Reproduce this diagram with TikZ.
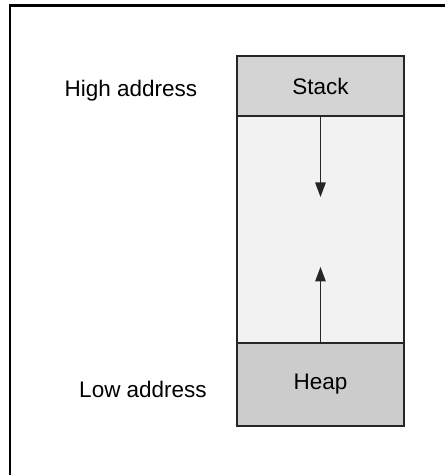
\documentclass[tikz,border=0pt]{standalone}
\usepackage{fontspec}
\setmainfont{Liberation Sans}
\usepackage{tikz}
\usetikzlibrary{positioning,arrows.meta,calc}

\begin{document}
\begin{tikzpicture}[
    x=0.02cm, y=-0.02cm,
    font=\fontsize{12.8}{15}\selectfont,
    seg/.style={draw, black!85, text=black, line width=1.1pt, minimum width=3.34cm,
                inner sep=0pt, outer sep=0pt, align=center},
    op/.style={->, >={Triangle[length=2.9mm, width=2.1mm]}, line width=0.7pt,
               black!85},
    frame/.style={line width=1.7pt},
  ]
  \useasboundingbox (0,0) rectangle (445,475);
  % --- outer frame (top and left only) ---
  \draw[frame] (10,475) -- (10,6) -- (445,6);

  % --- memory segments ---
  \node[seg, fill=black!17, minimum height=1.2cm, anchor=north west]
    (stack) at (237,56) {Stack};
  \node[seg, fill=black!5, minimum height=4.54cm, below=0pt of stack] (free) {};
  \node[seg, fill=black!20, minimum height=1.66cm, below=0pt of free] (heap) {Heap};

  % --- growth arrows ---
  \coordinate (downend) at ($(stack.south)+(0,81)$);
  \coordinate (upend) at ($(heap.north)+(0,-76)$);
  \draw[op] (stack.south) -- (downend);
  \draw[op] (heap.north) -- (upend);

  % --- address labels ---
  \node (high) at (131,91) {High address};
  \node (low) at (143,389) {Low address};
\end{tikzpicture}
\end{document}
